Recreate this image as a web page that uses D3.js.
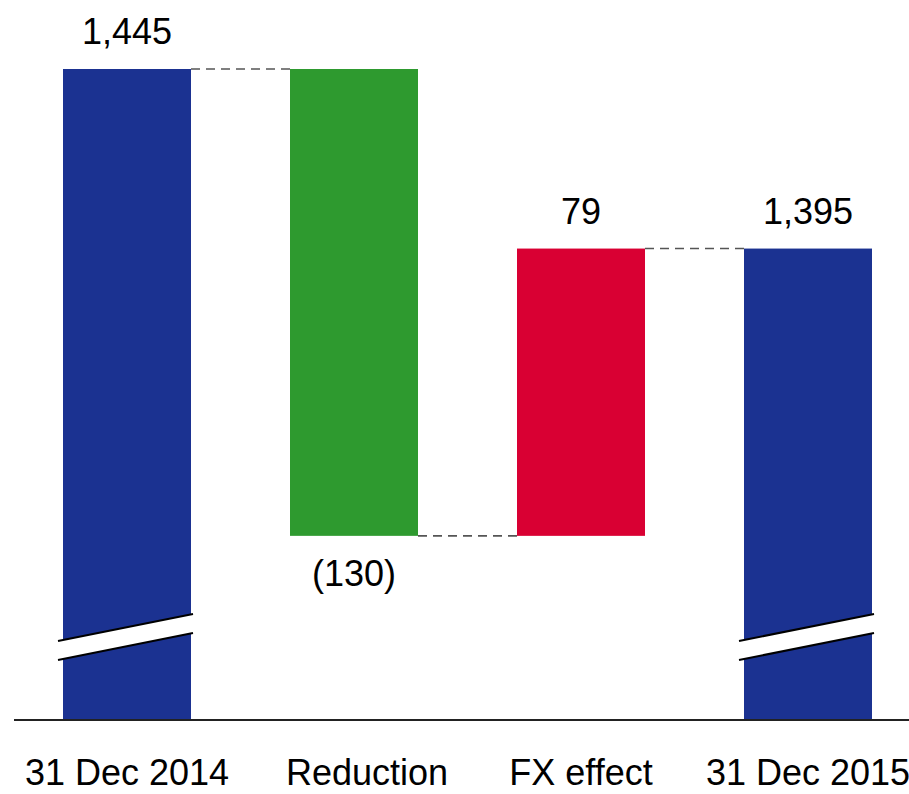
<!DOCTYPE html>
<html>
<head>
<meta charset="utf-8">
<script src="https://cdn.jsdelivr.net/npm/d3@7/dist/d3.min.js"></script>
<style>
  html, body { margin: 0; padding: 0; background: #fff; }
  svg { display: block; }
  text { font-family: "Liberation Sans", Arial, sans-serif; fill: #000; }
</style>
</head>
<body>
<svg id="chart" width="909" height="794"></svg>
<script>
// ---- data ----
const categories = ["31 Dec 2014", "Reduction", "FX effect", "31 Dec 2015"];
const kinds      = ["total", "delta", "delta", "total"];
const values     = [1445, -130, 79, 1395];
const valueLabels = ["1,445", "(130)", "79", "1,395"];
const axisBreakValue = 1264; // value shown at the (broken) baseline
const colors = { total: "#1b3291", down: "#2e9a2f", up: "#d90033" };

// ---- build waterfall segments ----
const segs = [];
let level = 0;
values.forEach((v, i) => {
  if (kinds[i] === "total") {
    segs.push({ cat: categories[i], lo: axisBreakValue, hi: v, end: v, kind: "total", label: valueLabels[i], v });
    level = v;
  } else {
    let next = level + v;
    if (i + 1 < values.length && kinds[i + 1] === "total") next = values[i + 1];
    segs.push({ cat: categories[i], lo: Math.min(level, next), hi: Math.max(level, next), start: level, end: next,
                kind: v < 0 ? "down" : "up", label: valueLabels[i], v });
    level = next;
  }
});

const svg = d3.select("#chart");
const W = 909, H = 794;
const baseY = 719;

const x = d3.scaleBand().domain(categories).range([63, 872]).paddingInner(99 / 227).paddingOuter(0);
const y = d3.scaleLinear().domain([axisBreakValue, 1445]).range([baseY, 69]);

// bars
svg.append("g").selectAll("rect").data(segs).join("rect")
  .attr("x", d => x(d.cat))
  .attr("width", x.bandwidth())
  .attr("y", d => y(d.hi))
  .attr("height", d => y(d.lo) - y(d.hi))
  .attr("fill", d => colors[d.kind]);

// connectors
const conn = [];
for (let i = 0; i < segs.length - 1; i++) {
  conn.push({ x1: x(segs[i].cat) + x.bandwidth(), x2: x(segs[i + 1].cat), v: segs[i].end });
}
svg.append("g").selectAll("line").data(conn).join("line")
  .attr("x1", d => d.x1).attr("x2", d => d.x2)
  .attr("y1", d => y(d.v)).attr("y2", d => y(d.v))
  .attr("stroke", "#555").attr("stroke-width", 1.6)
  .attr("stroke-dasharray", "9,6");

// axis break marks on total bars
const brk = svg.append("g");
segs.filter(d => d.kind === "total").forEach(d => {
  const x0 = x(d.cat) - 5, x1 = x(d.cat) + x.bandwidth() + 2;
  const yl = baseY - 78, yr = baseY - 105, gap = 19;
  brk.append("polygon")
    .attr("points", `${x0},${yl} ${x1},${yr} ${x1},${yr + gap} ${x0},${yl + gap}`)
    .attr("fill", "#fff");
  [0, gap].forEach(o => {
    brk.append("line")
      .attr("x1", x0).attr("y1", yl + o).attr("x2", x1).attr("y2", yr + o)
      .attr("stroke", "#000").attr("stroke-width", 2.2);
  });
});

// baseline
svg.append("line")
  .attr("x1", 14).attr("x2", W).attr("y1", baseY + 1).attr("y2", baseY + 1)
  .attr("stroke", "#222").attr("stroke-width", 2);

// value labels
svg.append("g").selectAll("text").data(segs).join("text")
  .attr("x", d => x(d.cat) + x.bandwidth() / 2)
  .attr("y", d => d.kind === "down" ? y(d.lo) + 50 : y(d.hi) - 25)
  .attr("text-anchor", "middle")
  .attr("font-size", 36)
  .text(d => d.label);

// category labels
svg.append("g").selectAll("text").data(categories).join("text")
  .attr("x", (d, i) => x(d) + x.bandwidth() / 2 + (i === 1 ? 13 : 0))
  .attr("y", 785)
  .attr("text-anchor", "middle")
  .attr("font-size", 36)
  .text(d => d);
</script>
</body>
</html>
